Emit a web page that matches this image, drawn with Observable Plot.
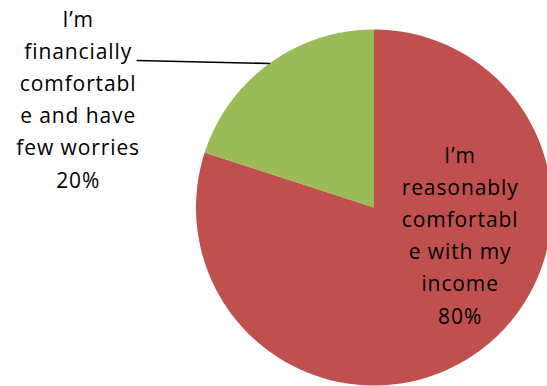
<!DOCTYPE html>
<html>
<head>
<meta charset="utf-8">
<script src="https://cdn.jsdelivr.net/npm/d3@7"></script>
<script src="https://cdn.jsdelivr.net/npm/@observablehq/plot@0.6"></script>
<style>
  html, body { margin: 0; padding: 0; background: #ffffff; }
  #chart { width: 547px; height: 386px; overflow: hidden; }
  #chart svg text { letter-spacing: 0.9px; }
</style>
</head>
<body>
<div id="chart"></div>
<script>
// Data
const categories = [
  "I\u2019m reasonably comfortable with my income",
  "I\u2019m financially comfortable and have few worries"
];
const values = [80, 20];
const labelLines = [
  ["I\u2019m", "reasonably", "comfortabl", "e with my", "income", "80%"],
  ["I\u2019m", "financially", "comfortabl", "e and have", "few worries", "20%"]
];
const colors = ["#C0504D", "#9BBB59"];

// Layout (pixels / unit-circle coordinates)
const W = 547, H = 386;
const cx = 373.5, cy = 207, R = 178;
const labelPos = [[0.484, -0.143], [-1.662, 0.621]];
const leaderStart = [-1.33, 0.826];

// Pie: first slice clockwise from 12 o'clock
const total = d3.sum(values);
const slices = [];
let acc = 0;
values.forEach((v, i) => {
  const a0 = acc / total * 2 * Math.PI;
  acc += v;
  const a1 = acc / total * 2 * Math.PI;
  slices.push({cat: categories[i], a0, a1, i});
});

const polyPts = [];
for (const s of slices) {
  polyPts.push({cat: s.cat, x: 0, y: 0});
  const n = 200;
  for (let k = 0; k <= n; k++) {
    const a = s.a0 + (s.a1 - s.a0) * k / n;
    polyPts.push({cat: s.cat, x: Math.sin(a), y: Math.cos(a)});
  }
  polyPts.push({cat: s.cat, x: 0, y: 0});
}

const labels = slices.map((s, i) => ({
  text: labelLines[i].join("\n"),
  x: labelPos[i][0], y: labelPos[i][1]
}));

const g = slices[1];
const gm = (g.a0 + g.a1) / 2;
const leader = [{x: leaderStart[0], y: leaderStart[1]}, {x: Math.sin(gm), y: Math.cos(gm)}];

const plot = Plot.plot({
  width: W, height: H,
  margin: 0,
  style: {background: "white", overflow: "hidden"},
  x: {domain: [-1, 1], range: [cx - R, cx + R], axis: null},
  y: {domain: [-1, 1], range: [cy + R, cy - R], axis: null},
  color: {domain: categories, range: colors},
  marks: [
    Plot.line(polyPts, {x: "x", y: "y", z: "cat", fill: "cat", stroke: null, curve: "linear"}),
    Plot.line(leader, {x: "x", y: "y", stroke: "black", strokeWidth: 1.6}),
    Plot.text(labels, {x: "x", y: "y", text: "text", lineHeight: 1.53, fontSize: 21,
      fontFamily: "Open Sans", fill: "black", textAnchor: "middle"})
  ]
});
document.getElementById("chart").appendChild(plot);
</script>
</body>
</html>
